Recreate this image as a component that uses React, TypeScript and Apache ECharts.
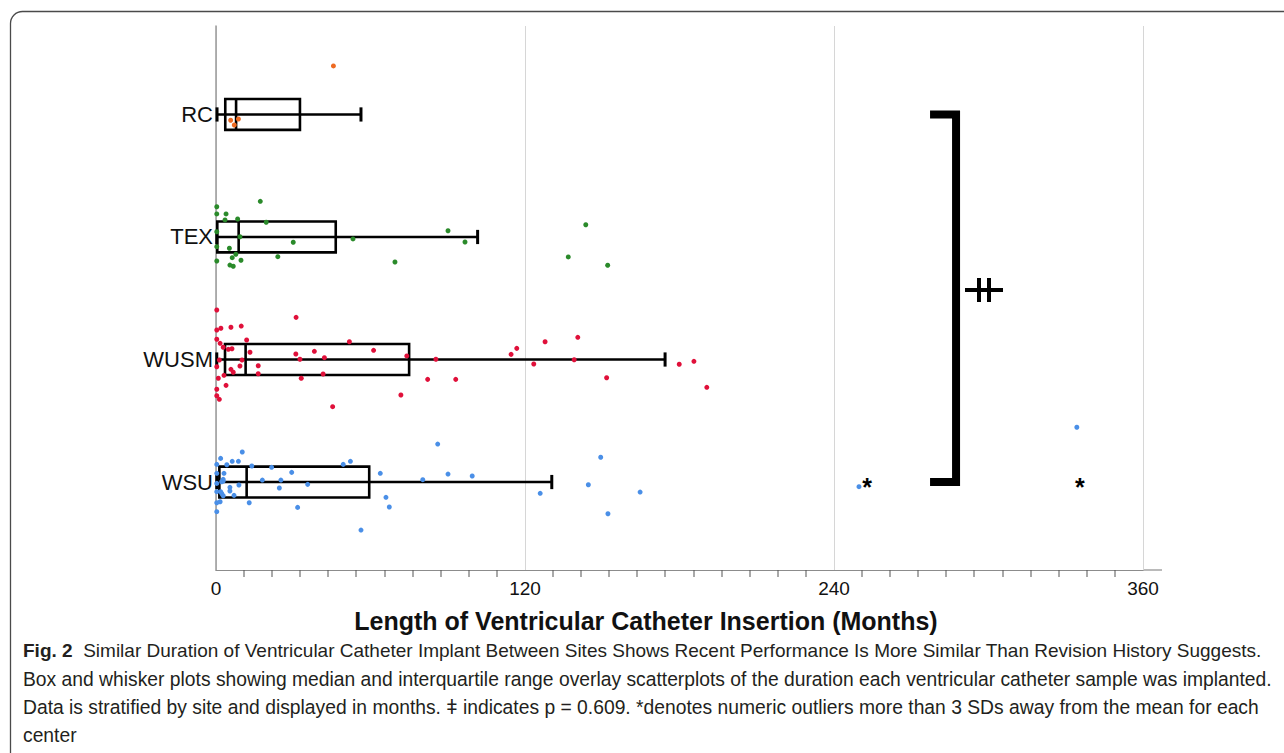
import React, { useEffect, useRef } from 'react';
import * as echarts from 'echarts';

// ---- categories / ticks ----
const siteNames = ['WSU', 'WUSM', 'TEX', 'RC']; // position 0..3 on the value y axis
const siteColors = ['#4A8FE7', '#E0103A', '#2A8A2A', '#EE6A22'];
const xTickValues = [0, 120, 240, 360];
const minorTicksPerMajor = 11;
const yMin = -0.718;
const yMax = 3.722;
const xTitle = 'Length of Ventricular Catheter Insertion (Months)';

// ---- box stats: [min, Q1, median, Q3, max] in months ----
const wsuBox = [0.3, 1.3, 11.9, 59.5, 130.4];
const wusmBox = [0.3, 3.5, 11.5, 75.0, 174.4];
const texBox = [0.3, 0.5, 8.8, 46.5, 101.6];
const rcBox = [0.4, 3.6, 7.8, 32.6, 56.3];

// ---- individual samples: [months, vertical jitter] ----
const wsuPoints = [
  [0.3, 0.144], [0.3, 0.071], [0.3, -0.011], [0.3, -0.079], [0.3, -0.169], [0.3, -0.242],
  [1.8, 0.193], [6.3, 0.169], [8.7, 0.169], [10.2, 0.245], [4.2, 0.141], [3.1, 0.071],
  [2.8, 0.022], [2.8, 0.008], [2.2, 0.002], [8.9, -0.024], [5.4, -0.043], [5.4, -0.073],
  [1.8, -0.079], [2.2, -0.092], [2.8, -0.112], [7.0, -0.109], [1.6, -0.161], [13.9, 0.131],
  [12.9, -0.169], [21.6, 0.12], [18.0, 0.016], [25.2, 0.016], [24.6, -0.049], [29.4, 0.079],
  [35.6, -0.019], [31.7, -0.207], [49.4, 0.144], [52.2, 0.169], [56.3, -0.392], [63.8, 0.071],
  [66.0, -0.125], [67.3, -0.204], [80.3, 0.019], [86.1, 0.31], [90.1, 0.065], [99.5, 0.049],
  [125.9, -0.092], [144.6, -0.022], [149.4, 0.202], [164.7, -0.082], [152.2, -0.259],
  [249.7, -0.038], [334.3, 0.447],
];
const wusmPoints = [
  [0.3, 0.404], [0.3, 0.241], [0.3, 0.165], [0.3, -0.059], [0.3, -0.243], [0.3, -0.296],
  [1.9, 0.255], [5.8, 0.263], [9.8, 0.273], [31.1, 0.344], [1.6, 0.132], [2.8, 0.1],
  [4.8, 0.083], [6.2, 0.088], [11.9, 0.159], [13.2, 0.059], [1.3, -0.004], [10.1, -0.004],
  [9.3, -0.053], [16.4, -0.051], [5.8, -0.08], [6.7, -0.104], [16.4, -0.116], [3.1, -0.129],
  [0.9, -0.153], [3.9, -0.211], [1.3, -0.325], [31.0, 0.045], [32.6, 0.002], [33.1, -0.153],
  [38.2, 0.067], [42.1, 0.015], [41.6, -0.118], [51.8, 0.145], [61.2, 0.075], [74.1, 0.029],
  [71.8, -0.29], [45.3, -0.385], [82.2, -0.162], [85.4, 0.002], [93.1, -0.162], [114.6, 0.042],
  [116.8, 0.091], [123.4, -0.037], [127.8, 0.145], [140.5, 0.181], [139.1, -0.002],
  [151.7, -0.149], [179.9, -0.039], [185.6, -0.015], [190.6, -0.227],
];
const texPoints = [
  [0.3, 0.247], [0.3, 0.188], [0.3, 0.043], [0.3, -0.079], [0.3, -0.196], [3.9, 0.188],
  [17.2, 0.291], [3.5, 0.139], [8.4, 0.147], [19.5, 0.12], [9.3, 0.002], [30.0, -0.043],
  [5.2, -0.092], [7.7, -0.141], [6.3, -0.169], [9.7, -0.19], [5.4, -0.229], [6.7, -0.239],
  [24.0, -0.161], [53.2, -0.016], [69.5, -0.204], [90.1, 0.051], [96.7, -0.041],
  [143.6, 0.1], [136.8, -0.163], [152.1, -0.231],
];
const rcPoints = [
  [45.6, 0.396], [5.7, -0.047], [8.7, -0.037], [7.1, -0.086],
];

// outlier markers "*": [months, site position]
const outlierMarks = [[252.9, 0], [335.5, 0]];
// significance bracket joining RC and WSU: [months, site position]
const bracketPoints = [[277.3, 3], [287.4, 3], [287.4, 0], [277.3, 0]];

const captionLines = [
  'Similar Duration of Ventricular Catheter Implant Between Sites Shows Recent Performance Is More Similar Than Revision History Suggests.',
  'Box and whisker plots showing median and interquartile range overlay scatterplots of the duration each ventricular catheter sample was implanted.',
  'Data is stratified by site and displayed in months. ǂ indicates p = 0.609. *denotes numeric outliers more than 3 SDs away from the mean for each',
  'center',
];

const FONT = '"Liberation Sans", Arial, sans-serif';

export default function App() {
  const ref = useRef<HTMLDivElement>(null);
  useEffect(() => {
    document.body.style.margin = '0';
    const chart = echarts.init(ref.current!, undefined, { renderer: 'svg' });
    const boxes = [wsuBox, wusmBox, texBox, rcBox].map((b, i) => [i, ...b]);
    const pointSets = [wsuPoints, wusmPoints, texPoints, rcPoints];

    // minor tick values between the labelled major ticks
    const minorTickValues: number[] = [];
    for (let k = 0; k < xTickValues.length - 1; k++) {
      const a = xTickValues[k];
      const step = (xTickValues[k + 1] - a) / minorTicksPerMajor;
      for (let s = 1; s < minorTicksPerMajor; s++) minorTickValues.push(a + s * step);
    }

    const boxSeries: any = {
      type: 'custom',
      z: 2,
      data: boxes,
      encode: { x: [1, 2, 3, 4, 5], y: 0 },
      renderItem: (_p: any, api: any) => {
        const pos = api.value(0);
        const v = [1, 2, 3, 4, 5].map((k) => api.value(k));
        const c = (val: number, dy = 0) => api.coord([val, pos + dy]);
        const y = c(v[0])[1];
        const yTop = c(v[0], 0.126)[1];
        const yBot = c(v[0], -0.126)[1];
        const cTop = c(v[0], 0.058)[1];
        const cBot = c(v[0], -0.058)[1];
        const x0 = c(v[0])[0], x1 = c(v[1])[0], x2 = c(v[2])[0], x3 = c(v[3])[0], x4 = c(v[4])[0];
        const st = { stroke: '#000', lineWidth: 2.6, fill: 'none' };
        return {
          type: 'group',
          children: [
            { type: 'line', shape: { x1: x0, y1: y, x2: x4, y2: y }, style: st },
            { type: 'line', shape: { x1: x0, y1: cTop, x2: x0, y2: cBot }, style: { ...st, lineWidth: 3 } },
            { type: 'line', shape: { x1: x4, y1: cTop, x2: x4, y2: cBot }, style: { ...st, lineWidth: 3 } },
            { type: 'rect', shape: { x: x1, y: yTop, width: x3 - x1, height: yBot - yTop }, style: st },
            { type: 'line', shape: { x1: x2, y1: yTop, x2: x2, y2: yBot }, style: st },
          ],
        };
      },
    };

    const scatterSeries = pointSets.map((pts, i) => ({
      type: 'scatter',
      z: 3,
      symbolSize: 5,
      itemStyle: { color: siteColors[i], opacity: 1 },
      data: pts.map(([m, j]) => [m, i + j]),
    }));

    const outlierSeries: any = {
      type: 'custom',
      z: 5,
      data: outlierMarks,
      encode: { x: 0, y: 1 },
      renderItem: (_p: any, api: any) => {
        const pt = api.coord([api.value(0), api.value(1)]);
        return {
          type: 'text',
          x: pt[0],
          y: pt[1] + 5,
          style: {
            text: '*',
            font: `bold 25px ${FONT}`,
            fill: '#000',
            align: 'center',
            verticalAlign: 'middle',
          },
        };
      },
    };

    const baseGraphic: any[] = [
      {
        type: 'rect', z: 100, silent: true,
        shape: { x: 10.5, y: 11.5, width: 1300, height: 800, r: 12 },
        style: { fill: 'none', stroke: '#4a4a4a', lineWidth: 1.3 },
      },
      // axis line tail beyond 360
      { type: 'line', shape: { x1: 1143, y1: 570, x2: 1162, y2: 570 }, style: { stroke: '#8c8c8c', lineWidth: 1.2 } },
      // rotated double-dagger symbol next to bracket
      { type: 'line', shape: { x1: 965, y1: 290, x2: 1003, y2: 290 }, style: { stroke: '#000', lineWidth: 4 } },
      { type: 'line', shape: { x1: 979, y1: 278, x2: 979, y2: 302 }, style: { stroke: '#000', lineWidth: 4 } },
      { type: 'line', shape: { x1: 989, y1: 278, x2: 989, y2: 302 }, style: { stroke: '#000', lineWidth: 4 } },
      // x-axis title
      {
        type: 'text', x: 646, y: 621,
        style: {
          text: xTitle, font: `bold 25px ${FONT}`, fill: '#111',
          align: 'center', verticalAlign: 'middle',
        },
      },
      {
        type: 'text', left: 23, top: 641,
        style: {
          text: '{b|Fig. 2}  ' + captionLines[0],
          font: `19px ${FONT}`, fill: '#231f20',
          rich: { b: { fontWeight: 'bold', fontSize: 19, fontFamily: FONT, fill: '#231f20' } },
        },
      },
      { type: 'text', left: 23, top: 670, style: { text: captionLines[1], font: `19.3px ${FONT}`, fill: '#231f20' } },
      { type: 'text', left: 23, top: 698, style: { text: captionLines[2], font: `19.3px ${FONT}`, fill: '#231f20' } },
      { type: 'text', left: 23, top: 726, style: { text: captionLines[3], font: `19.3px ${FONT}`, fill: '#231f20' } },
    ];

    const option: any = {
      animation: false,
      backgroundColor: '#fff',
      grid: { left: 216, right: 141, top: 26, bottom: 183, containLabel: false },
      xAxis: {
        type: 'value',
        min: 0,
        max: 360,
        interval: 120,
        axisLine: { show: true, onZero: false, lineStyle: { color: '#8c8c8c', width: 1.2 } },
        axisTick: { show: false },
        axisLabel: {
          fontFamily: FONT, fontSize: 19, color: '#111', margin: 9,
          formatter: (val: number) => (xTickValues.includes(val) ? String(val) : ''),
        },
        splitLine: { show: true, lineStyle: { color: '#d6d6d6', width: 1 } },
      },
      yAxis: {
        type: 'value',
        min: yMin,
        max: yMax,
        axisLine: { show: true, onZero: false, lineStyle: { color: '#9a9a9a', width: 1.5 } },
        axisTick: { show: false },
        splitLine: { show: false },
        axisLabel: {
          show: true,
          customValues: [0, 1, 2, 3],
          fontFamily: FONT, fontSize: 22, color: '#111', margin: 3,
          formatter: (val: number) => siteNames[Math.round(val)] ?? '',
        },
      },
      series: [
        boxSeries,
        ...scatterSeries,
        {
          type: 'line',
          z: 4,
          data: bracketPoints,
          symbol: 'none',
          lineStyle: { color: '#000', width: 8, cap: 'butt', join: 'miter' },
        },
        outlierSeries,
      ],
      graphic: baseGraphic,
    };
    chart.setOption(option);

    // minor tick marks placed through the chart's own x scale
    const tickGraphic = minorTickValues.map((v) => {
      const pt = chart.convertToPixel({ xAxisIndex: 0, yAxisIndex: 0 }, [v, yMin]) as number[];
      const x = Math.round(pt[0]);
      return {
        type: 'rect', z: 120, silent: true,
        shape: { x: x - 0.5, y: Math.round(pt[1]), width: 1, height: 7 },
        style: { fill: '#555' },
      };
    });
    chart.setOption({ graphic: [...baseGraphic, ...tickGraphic] });

    return () => chart.dispose();
  }, []);
  return <div ref={ref} style={{ width: 1284, height: 753 }} />;
}
